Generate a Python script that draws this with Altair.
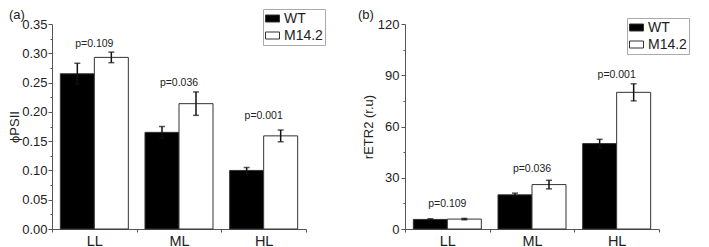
import altair as alt
import pandas as pd

FONT = "Liberation Sans"

categories = ["LL", "ML", "HL"]
groups = ["WT", "M14.2"]

phi_wt = [0.265, 0.165, 0.100]
phi_wt_err = [0.018, 0.010, 0.005]
phi_m = [0.293, 0.214, 0.159]
phi_m_err = [0.009, 0.020, 0.010]

etr_wt = [5.6, 20.0, 50.0]
etr_wt_err = [0.4, 1.0, 2.5]
etr_m = [5.8, 26.0, 80.0]
etr_m_err = [0.4, 2.5, 5.0]

p_labels = ["p=0.109", "p=0.036", "p=0.001"]
p_pos_a = [0.316, 0.249, 0.193]
p_pos_b = [14.6, 35.1, 90.1]


def make_df(wt, wt_err, m, m_err):
    rows = []
    for i, c in enumerate(categories):
        for g, v, e in ((groups[0], wt[i], wt_err[i]), (groups[1], m[i], m_err[i])):
            rows.append({"cat": c, "group": g, "value": v, "lo": v - e, "hi": v + e})
    return pd.DataFrame(rows)


def make_pdf(pos):
    return pd.DataFrame({"cat": categories, "label": p_labels, "pos": pos})


def panel(df, pdf, ytitle, domain, minor_vals, major_test, fmt, tag, tag_x,
          legend_x, legend_y, title_pad, label_pad):
    xaxis = alt.Axis(title=None, labelAngle=0, tickBand="extent",
                     tickSize=3, labelFontSize=14.5, labelPadding=2,
                     labelFont=FONT, labelColor="#222",
                     domainColor="#555", tickColor="#555")
    xscale = alt.Scale(paddingInner=0, paddingOuter=0)
    x = alt.X("cat:N", sort=categories, scale=xscale, axis=xaxis)
    xo = alt.XOffset("group:N", sort=groups,
                     scale=alt.Scale(paddingInner=0, paddingOuter=0.245))
    yaxis = alt.Axis(title=ytitle, values=minor_vals, grid=False,
                     labelExpr=f"({major_test}) ? format(datum.value, '{fmt}') : ''",
                     labelOverlap=False,
                     tickSize={"condition": {"test": major_test, "value": 4}, "value": 2},
                     labelFontSize=13, labelFont=FONT, labelColor="#222",
                     labelPadding=label_pad, titleFontSize=13, titleFont=FONT,
                     titleFontWeight="normal", titleColor="#222",
                     titlePadding=title_pad, domainColor="#555", tickColor="#555")
    yscale = alt.Scale(domain=domain, nice=False, zero=True)

    def Y(field):
        return alt.Y(field, scale=yscale, axis=yaxis)

    color = alt.Color("group:N", sort=groups,
                      scale=alt.Scale(domain=groups, range=["#000000", "#ffffff"]),
                      legend=alt.Legend(title=None, orient="none",
                                        legendX=legend_x, legendY=legend_y,
                                        symbolType="M-1,-0.5H1V0.5H-1Z",
                                        symbolSize=196, symbolStrokeColor="#333",
                                        symbolStrokeWidth=1, labelFontSize=14,
                                        labelFont=FONT, labelColor="#222",
                                        strokeColor="#aaa", padding=2,
                                        rowPadding=2, labelOffset=4,
                                        fillColor="white"))
    bars = alt.Chart(df).mark_bar(stroke="#333", strokeWidth=1).encode(
        x=x, xOffset=xo, y=Y("value:Q"), color=color)
    err = alt.Chart(df).mark_rule(color="#111", strokeWidth=1.5).encode(
        x=x, xOffset=xo, y=Y("lo:Q"), y2="hi:Q")
    cap_lo = alt.Chart(df).mark_tick(color="#111", thickness=1.5, size=6).encode(
        x=x, xOffset=xo, y=Y("lo:Q"))
    cap_hi = alt.Chart(df).mark_tick(color="#111", thickness=1.5, size=6).encode(
        x=x, xOffset=xo, y=Y("hi:Q"))
    txt = alt.Chart(pdf).mark_text(fontSize=10.5, font=FONT, color="#222").encode(
        x=x, y=Y("pos:Q"), text="label:N")
    tag_txt = alt.Chart(pd.DataFrame({"t": [tag]})).mark_text(
        fontSize=13, font=FONT, color="#222", align="left", baseline="top").encode(
        x=alt.value(tag_x), y=alt.value(-15), text="t:N")
    return alt.layer(bars, err, cap_lo, cap_hi, txt, tag_txt).properties(
        width=254, height=205)


minor_a = [round(i * 0.025, 3) for i in range(15)]
minor_b = [i * 15 for i in range(9)]

chart_a = panel(make_df(phi_wt, phi_wt_err, phi_m, phi_m_err), make_pdf(p_pos_a),
                "\u03d5PSII", [0, 0.35], minor_a,
                "abs(datum.value*20 - round(datum.value*20)) < 0.001", ".2f", "(a)", -43,
                211, -15, 0, 1)
chart_b = panel(make_df(etr_wt, etr_wt_err, etr_m, etr_m_err), make_pdf(p_pos_b),
                "rETR2 (r.u)", [0, 120], minor_b,
                "datum.value % 30 == 0", "d", "(b)", -47,
                222, -6, 2, 2)

chart = alt.hconcat(chart_a, chart_b, spacing=32).resolve_scale(
    color="independent", y="independent", x="independent"
).resolve_legend(color="independent").configure_view(stroke=None).properties(padding=0)

chart.save("out.html", embed_options={"renderer": "svg", "actions": False})
